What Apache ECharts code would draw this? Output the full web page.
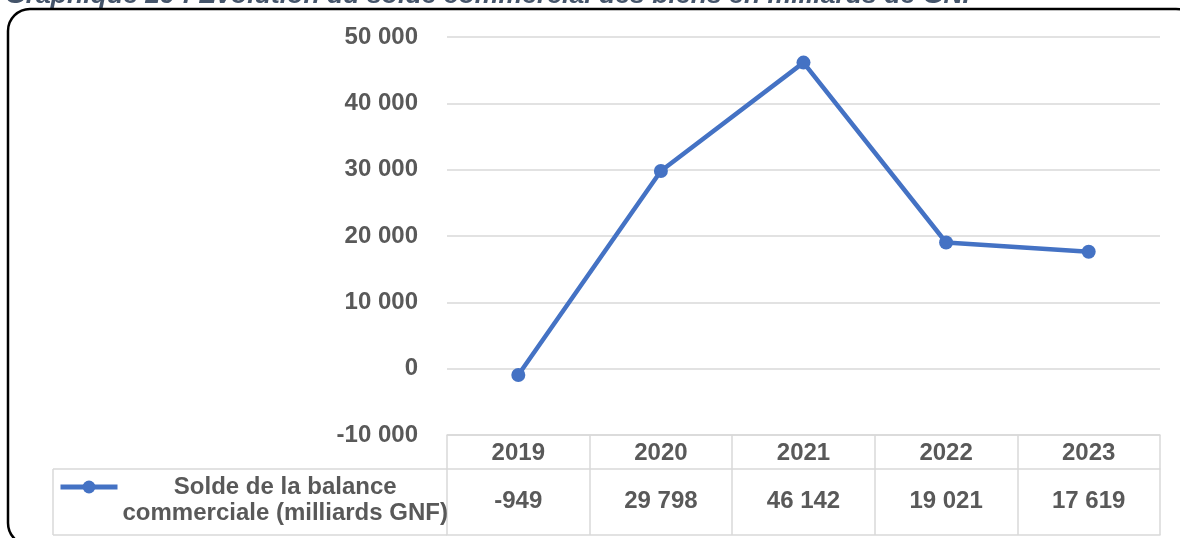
<!DOCTYPE html>
<html>
<head>
<meta charset="utf-8">
<script src="https://cdn.jsdelivr.net/npm/echarts@6/dist/echarts.min.js"></script>
<style>
html,body{margin:0;padding:0;background:#fff;}
#chart{width:1180px;height:538px;}
</style>
</head>
<body>
<div id="chart"></div>
<script>
// ---- data ----
const titleText = 'Graphique 29 : Évolution du solde commercial des biens en milliards de GNF';
const years = ['2019', '2020', '2021', '2022', '2023'];
const solde = [-949, 29798, 46142, 19021, 17619];
const seriesName = 'Solde de la balance commerciale (milliards GNF)';
const legendLines = ['Solde de la balance', 'commerciale (milliards GNF)'];
const yMin = -10000, yMax = 50000, yStep = 10000;

function fmt(n) {
  const s = Math.abs(Math.round(n)).toString().replace(/\B(?=(\d{3})+(?!\d))/g, ' ');
  return (n < 0 ? '-' : '') + s;
}

const FONT = '"Liberation Sans", Arial, sans-serif';
const TXT = '#595959';
const GRID = '#d9d9d9';
const BLUE = '#4472C4';

const chart = echarts.init(document.getElementById('chart'), null, {renderer: 'canvas'});
const labelStyle = {fontFamily: FONT, fontSize: 24, fontWeight: 'bold', color: TXT};

chart.setOption({
  animation: false,
  backgroundColor: '#fff',
  title: {
    text: titleText, left: 5, top: -18, padding: 0,
    textStyle: {fontFamily: FONT, fontSize: 26.6, fontWeight: 'bold', fontStyle: 'italic', color: '#44546A'}
  },
  grid: {left: 447, right: 20, top: 37, bottom: 103, containLabel: false},
  legend: {
    left: 58, top: 449, padding: 0,
    itemWidth: 57, itemHeight: 16, itemGap: 0,
    data: [seriesName],
    lineStyle: {width: 5, color: BLUE},
    itemStyle: {color: BLUE},
    formatter: function () {
      return '{a| }\n' + legendLines.map(l => '{a|' + l + '}').join('\n');
    },
    textStyle: {
      fontFamily: FONT, fontSize: 24, fontWeight: 'bold', color: TXT,
      rich: {a: {fontFamily: FONT, fontSize: 24, fontWeight: 'bold', color: TXT, lineHeight: 26, align: 'center'}}
    }
  },
  xAxis: [
    {
      type: 'category', data: years, position: 'bottom', boundaryGap: true,
      axisLine: {show: true, onZero: false, lineStyle: {color: GRID, width: 1.5}},
      axisTick: {show: true, length: 100, alignWithLabel: false, lineStyle: {color: GRID, width: 1.5}},
      axisLabel: Object.assign({margin: 6}, labelStyle),
      splitLine: {show: false}
    },
    {
      type: 'category', data: years, position: 'bottom', offset: 34, boundaryGap: true,
      axisLine: {show: true, onZero: false, lineStyle: {color: GRID, width: 1.5}},
      axisTick: {show: false},
      axisLabel: Object.assign({margin: 20, formatter: function (v, i) { return fmt(solde[i]); }}, labelStyle),
      splitLine: {show: false}
    },
    {
      type: 'category', data: years, position: 'bottom', offset: 100, boundaryGap: true,
      axisLine: {show: true, onZero: false, lineStyle: {color: GRID, width: 1.5}},
      axisTick: {show: false}, axisLabel: {show: false}, splitLine: {show: false}
    }
  ],
  yAxis: {
    type: 'value', min: yMin, max: yMax, interval: yStep,
    axisLine: {show: false}, axisTick: {show: false},
    axisLabel: Object.assign({margin: 29, formatter: fmt}, labelStyle),
    splitLine: {show: true, lineStyle: {color: GRID, width: 1.5}}
  },
  series: [{
    name: seriesName, type: 'line', xAxisIndex: 0, data: solde,
    symbol: 'circle', symbolSize: 14,
    lineStyle: {color: BLUE, width: 4.5},
    itemStyle: {color: BLUE}
  }],
  graphic: [
    {type: 'line', shape: {x1: 53, y1: 469, x2: 447, y2: 469}, style: {stroke: GRID, lineWidth: 1.5}},
    {type: 'line', shape: {x1: 53, y1: 535, x2: 447, y2: 535}, style: {stroke: GRID, lineWidth: 1.5}},
    {type: 'line', shape: {x1: 53, y1: 469, x2: 53, y2: 535}, style: {stroke: GRID, lineWidth: 1.5}},
    {type: 'rect', shape: {x: 8, y: 9, width: 1190, height: 536, r: 22}, style: {fill: 'none', stroke: '#000', lineWidth: 2.5}, z: 100}
  ]
});
</script>
</body>
</html>
